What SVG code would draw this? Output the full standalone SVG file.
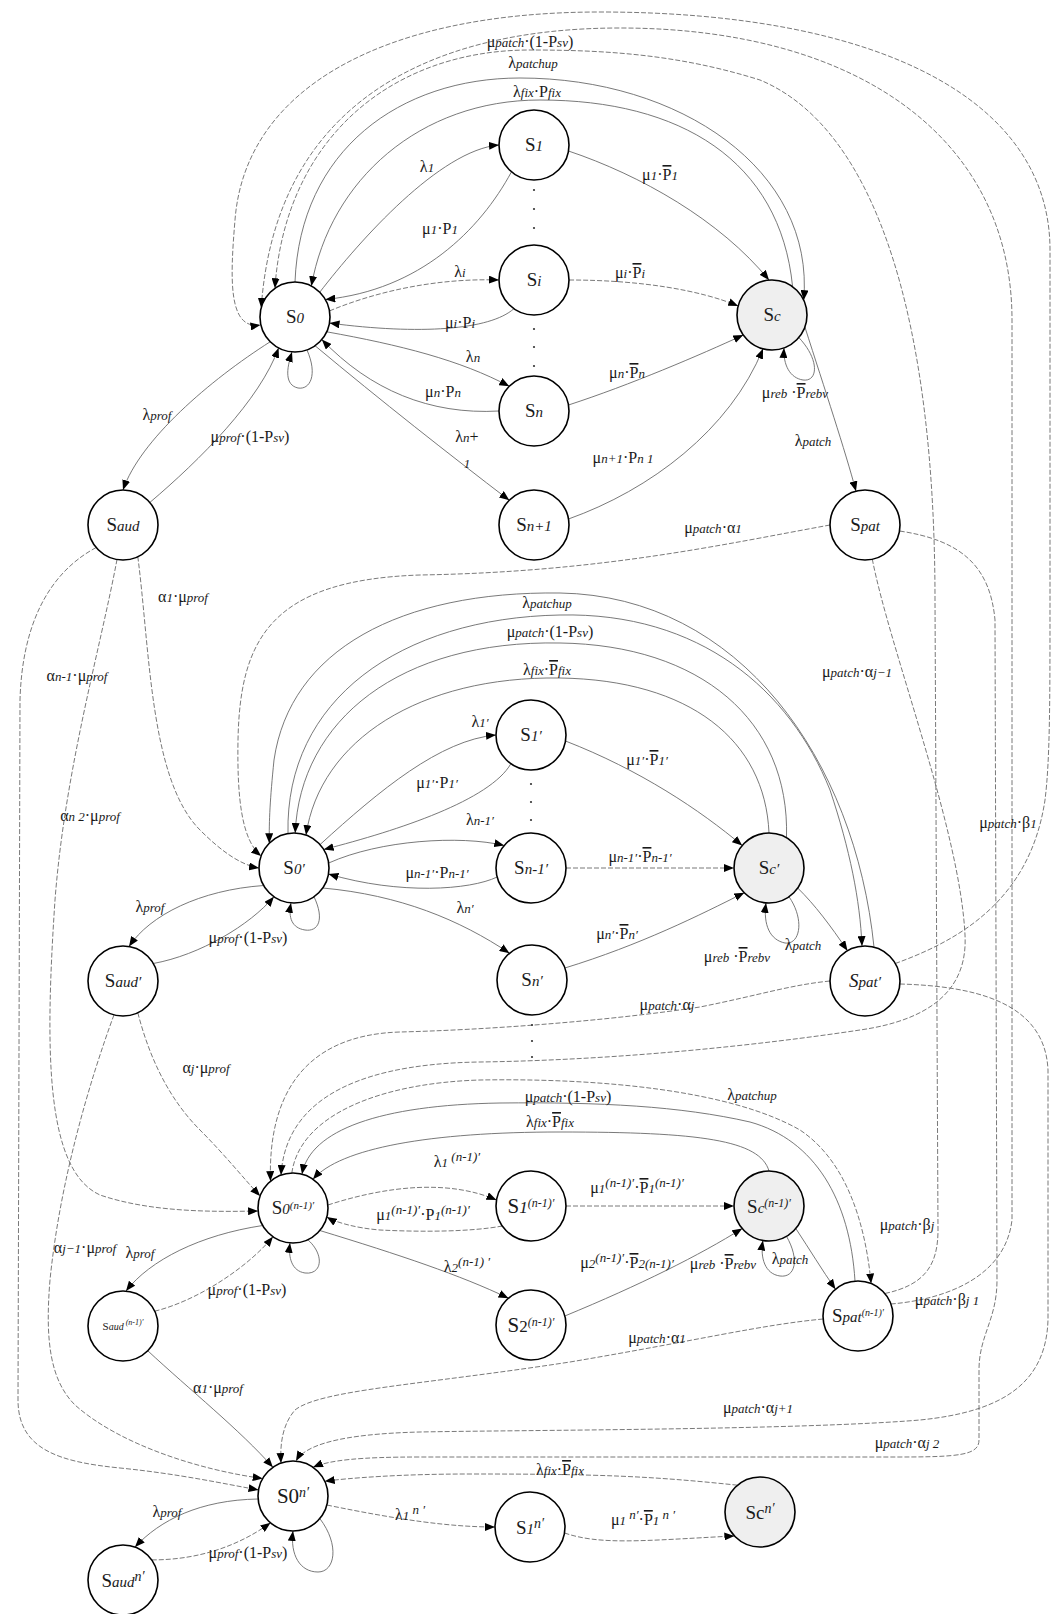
<svg xmlns="http://www.w3.org/2000/svg" width="1056" height="1614" viewBox="0 0 1056 1614">
<style>
text{font-family:"Liberation Serif","Times New Roman",serif;font-size:16px;fill:#1a1a1a;text-anchor:middle}
.s{font-style:italic;font-size:13px}
.o{text-decoration:overline}
.nl{font-size:19px}
.ns{font-style:italic;font-size:15px}
.nsup{font-style:italic;font-size:11px}
circle.n{fill:#fff;stroke:#000;stroke-width:1.6}
circle.g{fill:#efefef;stroke:#000;stroke-width:1.6}
path{fill:none;stroke:#6a6a6a;stroke-width:0.9}
.d{stroke-dasharray:5 2}
.a{marker-end:url(#ah)}
.dot{fill:#333;stroke:none}
</style>
<defs>
<marker id="ah" viewBox="0 0 10 8" refX="10" refY="4" markerWidth="10" markerHeight="8" markerUnits="userSpaceOnUse" orient="auto"><path d="M0,0L10,4L0,8z" style="fill:#000;stroke:none"/></marker>
</defs>
<rect width="1056" height="1614" fill="#fff"/>
<g id="connectors">
<path class="a" d="M319.7,292.3 C360,240 440,150 499,145"/>
<path class="a" d="M511.5,171.8 C480,230 420,290 325.3,299.5"/>
<path class="a d" d="M329.5,310.9 C380,290 440,278 499,280"/>
<path class="a" d="M513.9,308.7 C490,330 420,335 329.5,323.1"/>
<path class="a" d="M326.7,331.8 C400,345 460,360 509.3,386.3"/>
<path class="a" d="M499,411 C430,415 370,390 321.8,339.5"/>
<path class="a" d="M315,345.7 C380,400 450,455 509.3,500.3"/>
<path class="a" d="M568.5,151 C640,175 720,220 769,280.1"/>
<path class="a d" d="M569,280 C640,280 700,290 738.2,306"/>
<path class="a" d="M568.5,405 C630,385 700,355 743.3,335"/>
<path class="a" d="M568.5,519 C650,490 730,430 763,348.8"/>
<path class="a" d="M798.8,337.5 C820,360 818,382 803,380 C790,378 783,365 784,347.9"/>
<path class="a" d="M804.9,327 C825,390 845,450 856,491.2"/>
<path class="a" d="M307,350 C318,375 310,390 298,388 C285,385 286,370 292,352"/>
<path class="a" d="M270.3,341.7 C210,380 140,440 123,490"/>
<path class="a" d="M149.8,502.5 C200,460 260,400 278.6,347.9"/>
<path class="a" d="M792.6,286.7 C780,160 680,100 540,100 C420,100 330,180 311.4,286.1"/>
<path class="a" d="M295,282 C300,150 400,78 520,78 C680,78 815,170 803.7,300.2"/>
<path class="a d" d="M884.8,1293.5 C925,1285 938,1265 938,1230 L935,600 C935,330 880,130 760,80 C680,55 610,50 530,50 C390,50 285,140 274.9,288.3"/>
<path class="a d" d="M890.9,1304 C940,1300 1005,1280 1012,1220 L1012,320 C1012,140 860,28 620,28 C420,28 275,110 261.2,307.9"/>
<path class="a d" d="M895.3,963.5 C960,940 1030,900 1045,800 C1050,760 1050,700 1050,600 L1050,250 C1050,100 880,12 600,12 C380,12 245,90 235,220 C230,280 228,330 260.5,325"/>
<path class="a d" d="M872.3,559.2 C890,650 960,830 965,935 C968,990 930,1020 860,1030 C760,1045 620,1060 480,1062 C340,1064 285,1110 281,1175.1"/>
<path class="a d" d="M830,525 C720,545 600,572 420,575 C270,580 240,640 238,740 C237,800 242,840 261.1,856"/>
<path class="a d" d="M899.5,531 C960,540 990,565 995,620 L997,1280 C997,1320 979,1335 979,1370 L979,1440 C979,1455 960,1457 900,1457 L420,1457 C360,1457 330,1460 313,1467.3"/>
<path class="a d" d="M899.9,984 C970,986 1045,1000 1048,1070 L1048,1320 C1046,1385 1000,1412 920,1420 C800,1430 520,1430 420,1432 C340,1434 305,1445 296,1461.1"/>
<path class="a d" d="M137.8,556.7 C150,650 150,780 200,830 C220,850 240,865 259,868"/>
<path class="a d" d="M117,559.5 C100,650 65,770 55,900 C45,1050 45,1170 100,1195 C150,1212 210,1212 258.1,1211"/>
<path class="a d" d="M96.2,547.5 C45,575 22,630 20,700 L18,1400 C18,1450 60,1462 120,1468 C180,1474 225,1484 258.5,1489.9"/>
<path class="a d" d="M114,1014.8 C90,1080 60,1180 50,1280 C45,1340 50,1380 75,1405 C120,1445 200,1470 262.7,1478.5"/>
<path class="a d" d="M137.8,1012.7 C150,1060 170,1100 200,1130 C225,1155 245,1180 260.1,1196"/>
<path class="a" d="M874,947.2 C855,760 740,596 560,593 C400,591 290,650 274,760 C270,800 269,820 269.3,843.3"/>
<path class="a" d="M288,833.5 C285,700 400,618 560,615 C700,612 790,690 830,790 C850,850 860,900 862,946.1"/>
<path class="a" d="M786.5,837.7 C790,720 700,645 560,643 C400,640 300,720 295.2,833"/>
<path class="a" d="M769,833 C765,740 690,680 560,678 C420,676 320,740 306,835.1"/>
<path class="a" d="M320,844.6 C380,790 440,740 496,735"/>
<path class="a" d="M510.9,763.7 C490,800 400,830 323.7,849.5"/>
<path class="a" d="M328.7,863 C380,840 460,835 504.2,845.5"/>
<path class="a" d="M497.2,877 C470,890 400,895 328.5,874"/>
<path class="a" d="M565.5,741 C640,770 700,810 742.2,845.5"/>
<path class="a d" d="M566,868 L734,868"/>
<path class="a" d="M322.7,888 C400,895 460,920 509.5,953.2"/>
<path class="a" d="M564.9,968 C640,945 700,915 744.3,892.7"/>
<path class="a" d="M789,896.7 C805,920 800,945 785,943 C770,940 763,925 766,902.9"/>
<path class="a" d="M797.7,888 C815,905 830,925 847.5,950.7"/>
<path class="a" d="M314,896.7 C325,920 318,932 305,930 C292,928 288,918 291,902.9"/>
<path class="a" d="M263.7,885.5 C200,890 150,915 129,946.5"/>
<path class="a" d="M153.3,963.5 C200,955 250,925 273.9,896.7"/>
<path class="a d" d="M830,981 C790,985 760,995 700,1007 C600,1022 480,1030 400,1032 C300,1035 268,1100 270.5,1181.2"/>
<path class="a d" d="M291.8,1173 C300,1115 380,1083 480,1080 C600,1078 730,1090 800,1130 C845,1160 865,1220 871.1,1283.5"/>
<path class="a" d="M855,1281.1 C850,1200 815,1140 750,1122 C680,1106 600,1102 500,1103 C380,1105 310,1130 302,1174.2"/>
<path class="a" d="M769,1171 C760,1140 700,1132 560,1132 C430,1132 340,1148 313,1179.3"/>
<path class="a d" d="M327.9,1205 C390,1185 450,1180 496.5,1200"/>
<path class="a d" d="M502.3,1226 C470,1232 420,1232 380,1230 C355,1228 335,1222 326.8,1217"/>
<path class="a d" d="M566,1206 L734,1206"/>
<path class="a" d="M319.8,1230.5 C400,1255 460,1275 508.5,1298.2"/>
<path class="a" d="M564.8,1316 C640,1285 700,1255 742.2,1228.5"/>
<path class="a" d="M786.5,1236.3 C800,1260 795,1278 780,1276 C765,1274 760,1258 762.9,1240.5"/>
<path class="a" d="M795.8,1228.5 C810,1250 822,1270 835.5,1289.2"/>
<path class="a" d="M307.8,1239.7 C325,1255 322,1275 305,1273 C292,1271 288,1258 290,1242.9"/>
<path class="a" d="M262.7,1225.5 C200,1235 150,1260 126,1291.1"/>
<path class="a d" d="M154.7,1311.2 C200,1300 250,1265 272.9,1236.7"/>
<path class="a" d="M147.7,1350.7 C190,1390 240,1430 272.9,1467.3"/>
<path class="a d" d="M823.1,1319 C760,1325 700,1340 570,1362 C420,1385 320,1390 295,1410 C282,1425 280,1445 281,1463.1"/>
<path class="a d" d="M737.5,1485.2 C650,1476 600,1474 470,1474 C400,1474 350,1478 324.7,1481.2"/>
<path class="a d" d="M326.8,1505 C400,1520 450,1527 495,1527"/>
<path class="a d" d="M564.5,1533 C600,1545 640,1541 734.4,1535.9"/>
<path class="a" d="M319.8,1518.5 C340,1545 335,1572 318,1572 C300,1572 290,1555 293,1531"/>
<path class="a" d="M258.1,1499 C200,1500 160,1520 135,1547.1"/>
<path class="a d" d="M151.7,1559.9 C200,1560 240,1545 270.5,1522.8"/>
</g>
<g id="dots">
<circle class="dot" cx="534" cy="190" r="1.1"/><circle class="dot" cx="534" cy="209" r="1.1"/><circle class="dot" cx="534" cy="228" r="1.1"/>
<circle class="dot" cx="534" cy="329" r="1.1"/><circle class="dot" cx="534" cy="347" r="1.1"/><circle class="dot" cx="534" cy="366" r="1.1"/>
<circle class="dot" cx="531" cy="784" r="1.1"/><circle class="dot" cx="531" cy="802" r="1.1"/><circle class="dot" cx="531" cy="820" r="1.1"/>
<circle class="dot" cx="532" cy="1025" r="1.1"/><circle class="dot" cx="532" cy="1041" r="1.1"/><circle class="dot" cx="532" cy="1057" r="1.1"/>
</g>
<g id="edge-labels">
<text x="530" y="47">μ<tspan class="s">patch</tspan>·(1-P<tspan class="s">sv</tspan>)</text>
<text x="533" y="68">λ<tspan class="s">patchup</tspan></text>
<text x="537" y="97">λ<tspan class="s">fix</tspan>·P<tspan class="s">fix</tspan></text>
<text x="427" y="172">λ<tspan class="s">1</tspan></text>
<text x="440" y="234">μ<tspan class="s">1</tspan>·P<tspan class="s">1</tspan></text>
<text x="460" y="277">λ<tspan class="s">i</tspan></text>
<text x="460" y="328">μ<tspan class="s">i</tspan>·P<tspan class="s">i</tspan></text>
<text x="473" y="362">λ<tspan class="s">n</tspan></text>
<text x="443" y="397">μ<tspan class="s">n</tspan>·P<tspan class="s">n</tspan></text>
<text x="467" y="442">λ<tspan class="s">n</tspan>+</text>
<text x="467" y="468"><tspan class="s">1</tspan></text>
<text x="660" y="180">μ<tspan class="s">1</tspan>·<tspan class="o">P</tspan><tspan class="s">1</tspan></text>
<text x="630" y="278">μ<tspan class="s">i</tspan>·<tspan class="o">P</tspan><tspan class="s">i</tspan></text>
<text x="627" y="378">μ<tspan class="s">n</tspan>·<tspan class="o">P</tspan><tspan class="s">n</tspan></text>
<text x="623" y="463">μ<tspan class="s">n+1</tspan>·P<tspan class="s">n  1</tspan></text>
<text x="795" y="398">μ<tspan class="s">reb</tspan> ·<tspan class="o">P</tspan><tspan class="s">rebv</tspan></text>
<text x="813" y="446">λ<tspan class="s">patch</tspan></text>
<text x="157" y="420">λ<tspan class="s">prof</tspan></text>
<text x="250" y="442">μ<tspan class="s">prof</tspan>·(1-P<tspan class="s">sv</tspan>)</text>
<text x="183" y="602">α<tspan class="s">1</tspan>·μ<tspan class="s">prof</tspan></text>
<text x="713" y="533">μ<tspan class="s">patch</tspan>·α<tspan class="s">1</tspan></text>
<text x="77" y="681">α<tspan class="s">n-1</tspan>·μ<tspan class="s">prof</tspan></text>
<text x="90" y="821">α<tspan class="s">n 2</tspan>·μ<tspan class="s">prof</tspan></text>
<text x="547" y="608">λ<tspan class="s">patchup</tspan></text>
<text x="550" y="637">μ<tspan class="s">patch</tspan>·(1-P<tspan class="s">sv</tspan>)</text>
<text x="547" y="675">λ<tspan class="s">fix</tspan>·<tspan class="o">P</tspan><tspan class="s">fix</tspan></text>
<text x="857" y="677">μ<tspan class="s">patch</tspan>·α<tspan class="s">j−1</tspan></text>
<text x="480" y="727">λ<tspan class="s">1′</tspan></text>
<text x="437" y="788">μ<tspan class="s">1′</tspan>·P<tspan class="s">1′</tspan></text>
<text x="647" y="765">μ<tspan class="s">1′</tspan>·<tspan class="o">P</tspan><tspan class="s">1′</tspan></text>
<text x="480" y="825">λ<tspan class="s">n-1′</tspan></text>
<text x="437" y="878">μ<tspan class="s">n-1′</tspan>·P<tspan class="s">n-1′</tspan></text>
<text x="640" y="862">μ<tspan class="s">n-1′</tspan>·<tspan class="o">P</tspan><tspan class="s">n-1′</tspan></text>
<text x="1008" y="828">μ<tspan class="s">patch</tspan>·β<tspan class="s">1</tspan></text>
<text x="150" y="912">λ<tspan class="s">prof</tspan></text>
<text x="248" y="943">μ<tspan class="s">prof</tspan>·(1-P<tspan class="s">sv</tspan>)</text>
<text x="465" y="913">λ<tspan class="s">n′</tspan></text>
<text x="617" y="939">μ<tspan class="s">n′</tspan>·<tspan class="o">P</tspan><tspan class="s">n′</tspan></text>
<text x="737" y="962">μ<tspan class="s">reb</tspan> ·<tspan class="o">P</tspan><tspan class="s">rebv</tspan></text>
<text x="803" y="950">λ<tspan class="s">patch</tspan></text>
<text x="667" y="1010">μ<tspan class="s">patch</tspan>·α<tspan class="s">j</tspan></text>
<text x="206" y="1073">α<tspan class="s">j</tspan>·μ<tspan class="s">prof</tspan></text>
<text x="568" y="1102">μ<tspan class="s">patch</tspan>·(1-P<tspan class="s">sv</tspan>)</text>
<text x="550" y="1127">λ<tspan class="s">fix</tspan>·<tspan class="o">P</tspan><tspan class="s">fix</tspan></text>
<text x="752" y="1100">λ<tspan class="s">patchup</tspan></text>
<text x="457" y="1167">λ<tspan class="s">1</tspan><tspan class="s" dy="-6"> (n-1)′</tspan></text>
<text x="423" y="1220">μ<tspan class="s">1</tspan><tspan class="s" dy="-6">(n-1)′</tspan><tspan dy="6">·P</tspan><tspan class="s">1</tspan><tspan class="s" dy="-6">(n-1)′</tspan></text>
<text x="637" y="1193">μ<tspan class="s">1</tspan><tspan class="s" dy="-6">(n-1)′</tspan><tspan dy="6">·</tspan><tspan class="o">P</tspan><tspan class="s">1</tspan><tspan class="s" dy="-6">(n-1)′</tspan></text>
<text x="467" y="1272">λ<tspan class="s">2</tspan><tspan class="s" dy="-6">(n-1) ′</tspan></text>
<text x="627" y="1268">μ<tspan class="s">2</tspan><tspan class="s" dy="-6">(n-1)′</tspan><tspan dy="6">·</tspan><tspan class="o">P</tspan><tspan class="s">2(n-1)′</tspan></text>
<text x="907" y="1230">μ<tspan class="s">patch</tspan>·β<tspan class="s">j</tspan></text>
<text x="723" y="1269">μ<tspan class="s">reb</tspan> ·<tspan class="o">P</tspan><tspan class="s">rebv</tspan></text>
<text x="790" y="1264">λ<tspan class="s">patch</tspan></text>
<text x="947" y="1305">μ<tspan class="s">patch</tspan>·β<tspan class="s">j  1</tspan></text>
<text x="140" y="1258">λ<tspan class="s">prof</tspan></text>
<text x="247" y="1295">μ<tspan class="s">prof</tspan>·(1-P<tspan class="s">sv</tspan>)</text>
<text x="85" y="1253">α<tspan class="s">j−1</tspan>·μ<tspan class="s">prof</tspan></text>
<text x="218" y="1393">α<tspan class="s">1</tspan>·μ<tspan class="s">prof</tspan></text>
<text x="657" y="1343">μ<tspan class="s">patch</tspan>·α<tspan class="s">1</tspan></text>
<text x="758" y="1413">μ<tspan class="s">patch</tspan>·α<tspan class="s">j+1</tspan></text>
<text x="907" y="1448">μ<tspan class="s">patch</tspan>·α<tspan class="s">j  2</tspan></text>
<text x="560" y="1475">λ<tspan class="s">fix</tspan>·<tspan class="o">P</tspan><tspan class="s">fix</tspan></text>
<text x="167" y="1517">λ<tspan class="s">prof</tspan></text>
<text x="248" y="1558">μ<tspan class="s">prof</tspan>·(1-P<tspan class="s">sv</tspan>)</text>
<text x="410" y="1520">λ<tspan class="s">1</tspan><tspan class="s" dy="-6"> n ′</tspan></text>
<text x="643" y="1525">μ<tspan class="s">1</tspan><tspan class="s" dy="-6"> n′</tspan><tspan dy="6">·</tspan><tspan class="o">P</tspan><tspan class="s">1</tspan><tspan class="s" dy="-6"> n ′</tspan></text>
</g>
<g id="S0"><circle class="n" cx="295" cy="317" r="35"/><text class="nl" x="295" y="323">S<tspan class="ns">0</tspan></text></g>
<g id="S1"><circle class="n" cx="534" cy="145" r="35"/><text class="nl" x="534" y="151">S<tspan class="ns">1</tspan></text></g>
<g id="Si"><circle class="n" cx="534" cy="280" r="35"/><text class="nl" x="534" y="286">S<tspan class="ns">i</tspan></text></g>
<g id="Sn"><circle class="n" cx="534" cy="411" r="35"/><text class="nl" x="534" y="417">S<tspan class="ns">n</tspan></text></g>
<g id="Sn1"><circle class="n" cx="534" cy="525" r="35"/><text class="nl" x="534" y="531">S<tspan class="ns">n+1</tspan></text></g>
<g id="Sc"><circle class="g" cx="772" cy="315" r="35"/><text class="nl" x="772" y="321">S<tspan class="ns">c</tspan></text></g>
<g id="Saud"><circle class="n" cx="123" cy="525" r="35"/><text class="nl" x="123" y="531">S<tspan class="ns">aud</tspan></text></g>
<g id="Spat"><circle class="n" cx="865" cy="525" r="35"/><text class="nl" x="865" y="531">S<tspan class="ns">pat</tspan></text></g>
<g id="S0p"><circle class="n" cx="294" cy="868" r="35"/><text class="nl" x="294" y="874">S<tspan class="ns">0′</tspan></text></g>
<g id="S1p"><circle class="n" cx="531" cy="735" r="35"/><text class="nl" x="531" y="741">S<tspan class="ns">1′</tspan></text></g>
<g id="Sn1p"><circle class="n" cx="531" cy="868" r="35"/><text class="nl" x="531" y="874">S<tspan class="ns">n-1′</tspan></text></g>
<g id="Scp"><circle class="g" cx="769" cy="868" r="35"/><text class="nl" x="769" y="874">S<tspan class="ns">c′</tspan></text></g>
<g id="Snp"><circle class="n" cx="532" cy="980" r="35"/><text class="nl" x="532" y="986">S<tspan class="ns">n′</tspan></text></g>
<g id="Saudp"><circle class="n" cx="123" cy="981" r="35"/><text class="nl" x="123" y="987">S<tspan class="ns">aud′</tspan></text></g>
<g id="Spatp"><circle class="n" cx="865" cy="981" r="35"/><text class="nl" x="865" y="987" font-style="italic">S<tspan class="ns">pat′</tspan></text></g>
<g id="S0n1"><circle class="n" cx="293" cy="1208" r="35"/><text class="nl" x="293" y="1214">S<tspan class="ns">0</tspan><tspan class="nsup" dy="-5">(n-1)′</tspan></text></g>
<g id="S1n1"><circle class="n" cx="531" cy="1206" r="35"/><text class="nl" x="531" y="1213" style="font-size:21px">S<tspan class="ns" style="font-size:17px">1</tspan><tspan class="nsup" dy="-6" style="font-size:12px">(n-1)′</tspan></text></g>
<g id="Scn1"><circle class="g" cx="769" cy="1206" r="35"/><text class="nl" x="769" y="1213">S<tspan class="ns">c</tspan><tspan class="nsup" dy="-6" style="font-size:12px">(n-1)′</tspan></text></g>
<g id="S2n1"><circle class="n" cx="531" cy="1325" r="35"/><text class="nl" x="531" y="1332" style="font-size:21px">S<tspan class="ns" style="font-size:17px;font-style:normal">2</tspan><tspan class="nsup" dy="-6" style="font-size:12px">(n-1)′</tspan></text></g>
<g id="Saudn1"><circle class="n" cx="123" cy="1326" r="35"/><text x="123" y="1330" style="font-size:11px">S<tspan class="nsup" style="font-size:10px">aud</tspan><tspan class="nsup" dy="-5" style="font-size:8px"> (n-1)′</tspan></text></g>
<g id="Spatn1"><circle class="n" cx="858" cy="1316" r="35"/><text class="nl" x="858" y="1322">S<tspan class="ns">pat</tspan><tspan class="nsup" dy="-6" style="font-size:10px">(n-1)′</tspan></text></g>
<g id="S0n"><circle class="n" cx="293" cy="1496" r="35"/><text class="nl" x="293" y="1503" style="font-size:21px">S0<tspan class="nsup" dy="-6" style="font-size:14px">n′</tspan></text></g>
<g id="S1n"><circle class="n" cx="530" cy="1527" r="35"/><text class="nl" x="530" y="1534">S<tspan class="ns">1</tspan><tspan class="nsup" dy="-6" style="font-size:14px">n′</tspan></text></g>
<g id="Scn"><circle class="g" cx="760" cy="1512" r="35"/><text class="nl" x="760" y="1519">Sc<tspan class="nsup" dy="-6" style="font-size:14px">n′</tspan></text></g>
<g id="Saudn"><circle class="n" cx="123" cy="1580" r="35"/><text class="nl" x="123" y="1587">S<tspan class="ns">aud</tspan><tspan class="nsup" dy="-6" style="font-size:14px">n′</tspan></text></g>
</svg>
